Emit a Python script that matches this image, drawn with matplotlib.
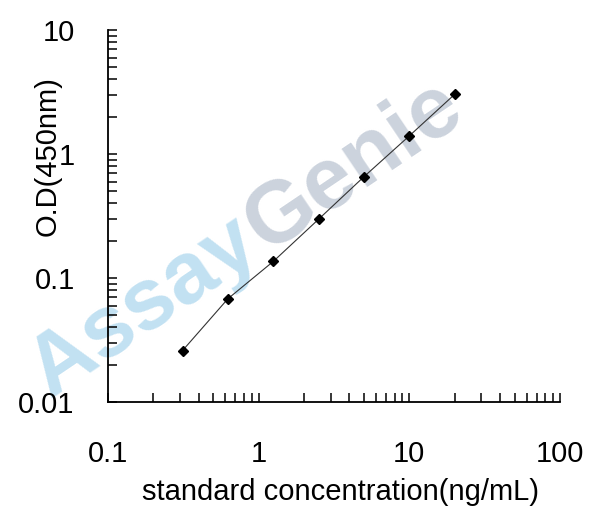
import numpy as np
import matplotlib.pyplot as plt
from matplotlib.ticker import FixedLocator, FixedFormatter, LogLocator, NullFormatter

plt.rcParams['font.family'] = ['Liberation Sans', 'DejaVu Sans']

# Standard curve data
conc = [0.3125, 0.625, 1.25, 2.5, 5, 10, 20]           # ng/mL
od = [0.026, 0.068, 0.136, 0.298, 0.656, 1.40, 3.03]   # O.D at 450 nm

x_ticks = [0.1, 1, 10, 100]
x_ticklabels = ['0.1', '1', '10', '100']
y_ticks = [0.01, 0.1, 1, 10]
y_ticklabels = ['0.01', '0.1', '1', '10']

W, H = 608, 514
fig = plt.figure(figsize=(W / 100, H / 100), dpi=100)
ax = fig.add_axes([108 / W, 1 - 402 / H, (560 - 108) / W, (402 - 30) / H])
ax.set_zorder(2)
ax.patch.set_alpha(0)

# Watermark behind the axes
wm_angle = 34
wm_size = 63
x0, y0 = 50 / W, 1 - 398 / H
fig.text(x0, y0, 'Assay', fontsize=wm_size, fontweight='bold', color='#c2e1f2',
         rotation=wm_angle, rotation_mode='anchor', ha='left', va='baseline', zorder=0)
fig.canvas.draw()
tmp = fig.text(0, 0, 'Assay', fontsize=wm_size, fontweight='bold')
w_px = tmp.get_window_extent().width
tmp.remove()
dx = (w_px + 2) * np.cos(np.radians(wm_angle)) / W
dy = (w_px + 2) * np.sin(np.radians(wm_angle)) / H
fig.text(x0 + dx, y0 + dy, 'Genie', fontsize=wm_size, fontweight='bold', color='#ccd3dd',
         rotation=wm_angle, rotation_mode='anchor', ha='left', va='baseline', zorder=0)

ax.plot(conc, od, color='#333333', lw=0.8, marker='D', ms=4.8,
        mfc='black', mec='black', zorder=3)

ax.set_xscale('log')
ax.set_yscale('log')
ax.set_xlim(0.1, 100)
ax.set_ylim(0.01, 10)

ax.xaxis.set_major_locator(FixedLocator(x_ticks))
ax.xaxis.set_major_formatter(FixedFormatter(x_ticklabels))
ax.yaxis.set_major_locator(FixedLocator(y_ticks))
ax.yaxis.set_major_formatter(FixedFormatter(y_ticklabels))
ax.xaxis.set_minor_locator(LogLocator(base=10, subs=np.arange(2, 10)))
ax.yaxis.set_minor_locator(LogLocator(base=10, subs=np.arange(2, 10)))
ax.xaxis.set_minor_formatter(NullFormatter())
ax.yaxis.set_minor_formatter(NullFormatter())

for s in ['top', 'right']:
    ax.spines[s].set_visible(False)
for s in ['left', 'bottom']:
    ax.spines[s].set_linewidth(1.3)

ax.tick_params(which='both', direction='in', length=6.5, width=1.1, colors='black')
ax.tick_params(axis='x', which='major', pad=27, labelsize=21)
ax.tick_params(axis='y', which='major', pad=24, labelsize=21)

fig.text(341 / W, 1 - 500 / H, 'standard concentration(ng/mL)', fontsize=21,
         ha='center', va='baseline')
fig.text(56 / W, 1 - 156 / H, 'O.D(450nm)', fontsize=21, rotation=90,
         rotation_mode='anchor', ha='center', va='baseline')

fig.savefig('out.png', dpi=100)
